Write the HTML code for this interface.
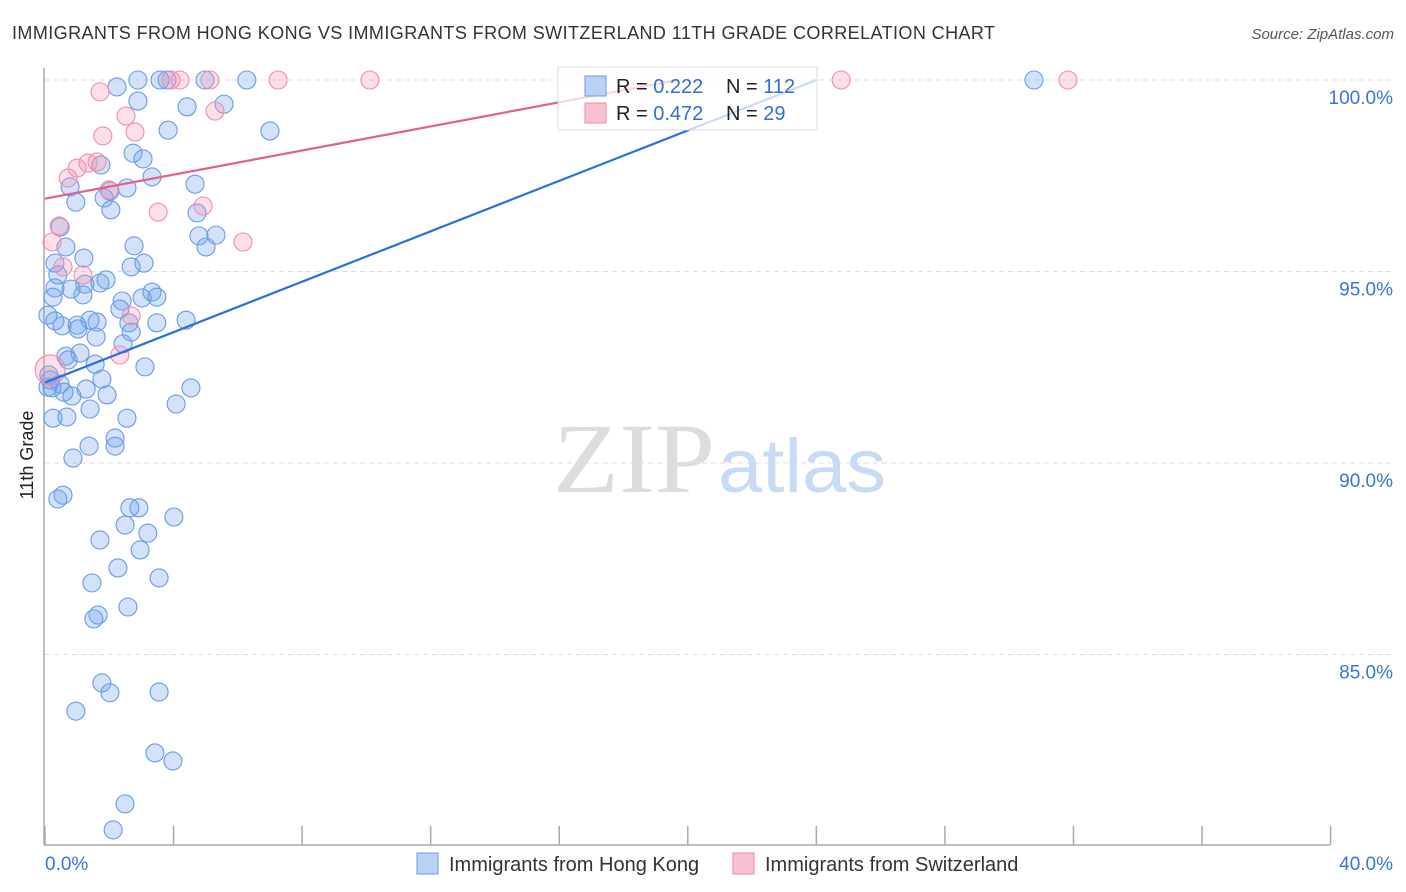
<!DOCTYPE html>
<html><head><meta charset="utf-8"><style>
body{margin:0;background:#fff;font-family:"Liberation Sans",sans-serif;}
svg{display:block}
</style></head><body>
<svg width="1406" height="892" xmlns="http://www.w3.org/2000/svg" id="chart">
<text x="12" y="39" font-size="18" fill="#333" textLength="983" lengthAdjust="spacing">IMMIGRANTS FROM HONG KONG VS IMMIGRANTS FROM SWITZERLAND 11TH GRADE CORRELATION CHART</text>
<text x="1394" y="39" font-size="15" fill="#555" text-anchor="end" font-style="italic">Source: ZipAtlas.com</text>
<text x="33" y="455" font-size="18" fill="#222" text-anchor="middle" transform="rotate(-90 33 455)">11th Grade</text>
<g id="grid"></g>
<g><text x="553" y="492" font-size="100" fill="#ddd" font-family="Liberation Serif,serif" textLength="162" lengthAdjust="spacingAndGlyphs">ZIP</text><text x="718" y="492" font-size="76" fill="#c9daf3" textLength="168" lengthAdjust="spacingAndGlyphs">atlas</text></g>
<g id="axes"></g>
<g id="dots"></g>
<g id="lines"></g>
<g>
<rect x="558" y="67" width="259" height="63" fill="rgba(255,255,255,0.75)" stroke="#ddd"/>
<rect x="585" y="76" width="21" height="20" fill="#b8d1f5" stroke="#6a9ae3"/>
<rect x="585" y="103" width="21" height="20" fill="#f9c2d2" stroke="#e98aa6"/>
<text x="616" y="93" font-size="20" fill="#222">R = <tspan fill="#2f6fd6">0.222</tspan><tspan x="726">N = </tspan><tspan fill="#2f6fd6">112</tspan></text>
<text x="616" y="120" font-size="20" fill="#222">R = <tspan fill="#2f6fd6">0.472</tspan><tspan x="726">N = </tspan><tspan fill="#2f6fd6"> 29</tspan></text>
</g>
<g>
<rect x="417" y="853" width="21" height="21" fill="#b8d1f5" stroke="#6a9ae3"/>
<text x="449" y="871" font-size="20" fill="#333">Immigrants from Hong Kong</text>
<rect x="733" y="853" width="21" height="21" fill="#f9c2d2" stroke="#e98aa6"/>
<text x="765" y="871" font-size="20" fill="#333">Immigrants from Switzerland</text>
</g>
</svg>
<script>
const yTicks=[100,95,90,85];
const yTickLabels=["100.0%","95.0%","90.0%","85.0%"];
const xTicks=[0,4,8,12,16,20,24,28,32,36,40];
const blueX=[2.89,3.58,3.80,4.98,6.28,30.77,2.24,2.89,4.42,5.57,3.83,7.0,2.74,3.05,1.74,3.33,4.67,0.78,2.55,2.02,1.84,0.96,2.05,4.73,0.47,4.79,5.32,5.01,0.65,2.77,0.31,1.21,3.08,2.68,0.40,1.24,1.71,1.90,0.31,0.81,0.25,1.18,3.33,3.02,3.48,2.40,2.33,0.09,0.31,1.40,0.53,1.0,1.62,2.61,3.48,4.39,2.68,1.59,1.03,2.43,0.65,1.09,0.72,3.11,1.56,0.12,1.77,0.09,0.47,0.84,1.28,1.93,4.54,1.40,4.08,0.68,2.55,2.18,1.37,2.18,0.87,0.56,0.40,2.64,2.92,4.01,2.49,3.20,1.71,2.96,2.27,3.55,1.46,2.58,1.65,1.52,1.77,2.02,3.55,0.96,3.42,3.98,2.49,2.12,0.16,0.22,0.59,0.25];
const blueY=[100,100,100,100,100,100,99.82,99.45,99.30,99.37,98.69,98.67,98.09,97.94,97.78,97.47,97.28,97.21,97.18,97.10,96.92,96.81,96.61,96.53,96.16,95.93,95.95,95.64,95.64,95.67,95.22,95.35,95.22,95.12,94.91,94.67,94.70,94.78,94.57,94.54,94.33,94.39,94.46,94.31,94.33,94.23,94.02,93.86,93.71,93.73,93.58,93.60,93.68,93.66,93.66,93.73,93.42,93.29,93.50,93.11,92.79,92.87,92.69,92.51,92.58,92.30,92.19,91.98,92.06,91.75,91.93,91.78,91.96,91.41,91.54,91.20,91.17,90.65,90.44,90.44,90.13,89.16,89.06,88.83,88.83,88.59,88.38,88.17,87.99,87.73,87.26,87.00,86.87,86.24,86.03,85.93,84.26,84.00,84.02,83.52,82.43,82.22,81.10,80.42,92.17,91.96,91.85,91.17];
const pinkX=[1.71,2.52,1.80,2.80,5.29,3.92,4.20,5.13,7.25,10.11,24.77,31.83,0.72,1.0,1.34,1.62,1.99,0.44,3.52,4.92,6.16,0.22,0.56,1.18,2.68,2.33,0.16];
const pinkY=[99.69,99.06,98.54,98.64,99.19,100,100,100,100,100,100,100,97.44,97.70,97.83,97.86,97.13,96.19,96.55,96.71,95.77,95.77,95.12,94.91,93.84,92.82,92.43];
const blueTrend=[0,92.1,24,100];
const pinkTrend=[0,96.9,19.7,100];
const NS="http://www.w3.org/2000/svg";
const X=v=>45+v*32.14, Y=v=>80+(100-v)*38.3;
function mk(tag,attrs,parent){const e=document.createElementNS(NS,tag);for(const k in attrs)e.setAttribute(k,attrs[k]);parent.appendChild(e);return e;}
const grid=document.getElementById('grid'),axes=document.getElementById('axes'),dots=document.getElementById('dots'),lines=document.getElementById('lines');
yTicks.forEach((t,i)=>{
 const l=mk('line',{x1:45,x2:1393,y1:Y(t),y2:Y(t),stroke:'#ddd','stroke-dasharray':'5,4'},grid);
 
 
 const tx=mk('text',{x:1393,y:Y(t)+24,'font-size':19,fill:'#3a74d6','text-anchor':'end'},axes);
 tx.textContent=yTickLabels[i];
 
 
});
const ax=mk('path',{d:'M44,68V845H1330',stroke:'#aaa',fill:'none','stroke-width':1.5},axes);


xTicks.forEach(t=>{
 const l=mk('line',{x1:X(t),x2:X(t),y1:826,y2:845,stroke:'#aaa','stroke-width':1.5},axes);
 
 
});
const xl0=mk('text',{x:45,y:870,'font-size':19,fill:'#3a74d6'},axes);xl0.textContent='0.0%';


const xl1=mk('text',{x:1393,y:870,'font-size':19,fill:'#3a74d6','text-anchor':'end'},axes);xl1.textContent='40.0%';


blueX.forEach((v,i)=>{
 const c=mk('circle',{cx:X(v),cy:Y(blueY[i]),r:9,fill:'rgba(110,160,235,0.3)',stroke:'#6a9be4','stroke-width':1.1},dots);
 
 
});
pinkX.forEach((v,i)=>{
 const c=mk('circle',{cx:X(v),cy:Y(pinkY[i]),r:i==pinkX.length-1?15:9,fill:'rgba(245,150,180,0.3)',stroke:'#ec8fab','stroke-width':1.1},dots);
 
 
});
const bl=mk('line',{x1:X(blueTrend[0]),y1:Y(blueTrend[1]),x2:X(blueTrend[2]),y2:Y(blueTrend[3]),stroke:'#2a6fdb','stroke-width':2.2},lines);


const pl=mk('line',{x1:X(pinkTrend[0]),y1:Y(pinkTrend[1]),x2:X(pinkTrend[2]),y2:Y(pinkTrend[3]),stroke:'#e4608a','stroke-width':2.2},lines);


</script>
</body></html>
